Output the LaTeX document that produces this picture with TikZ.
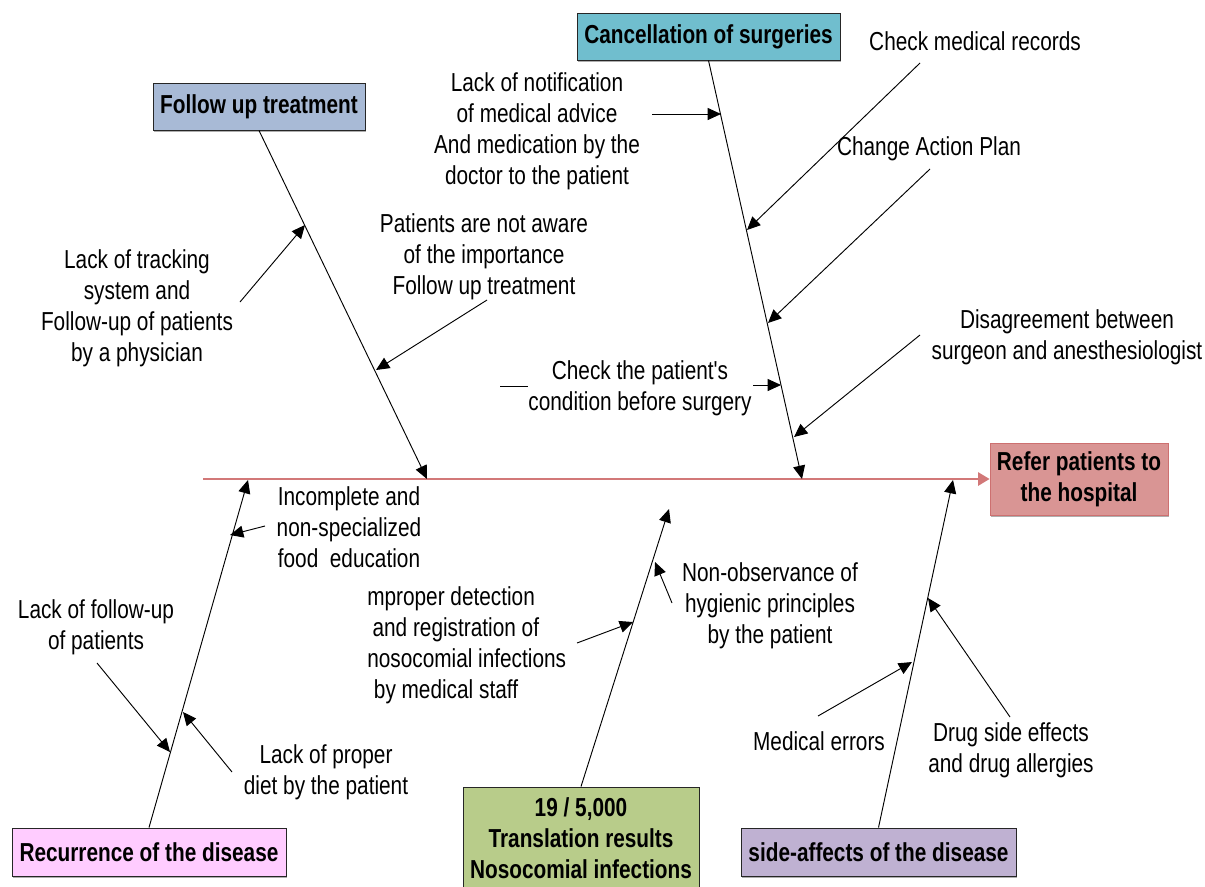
\documentclass[tikz,border=0pt]{standalone}
\usepackage{fontspec}
\setmainfont{Liberation Sans}[FakeStretch=0.80, Ligatures=TeXOff]
\usetikzlibrary{arrows.meta,shadows}
\definecolor{cancelc}{RGB}{112,190,206}
\definecolor{followc}{RGB}{168,186,214}
\definecolor{referc}{RGB}{217,149,148}
\definecolor{referd}{RGB}{205,112,112}
\definecolor{recurc}{RGB}{255,204,255}
\definecolor{nosoc}{RGB}{184,204,138}
\definecolor{sidec}{RGB}{191,177,210}
\definecolor{spinec}{RGB}{210,120,120}
\begin{document}
\begin{tikzpicture}[x=0.75pt,y=-0.75pt,
  txt/.style={font=\fontsize{19.5pt}{23.25pt}\selectfont, align=center, inner sep=0pt, yshift=-1.8pt},
  box/.style={draw=black!85, line width=0.7pt, font=\fontsize{19.5pt}{23.25pt}\selectfont\bfseries,
     align=center, inner sep=0pt,
     drop shadow={shadow xshift=1pt, shadow yshift=-1.5pt, opacity=0.45, fill=black!70}},
  bsize/.style n args={2}{minimum width=#1*0.75pt, minimum height=#2*0.75pt},
  bone/.style={draw=black, line width=0.7pt},
  arr/.style={draw=black, line width=0.7pt, -{Triangle[length=10pt,width=9pt]}},
  spine/.style={draw=spinec, line width=0.9pt, -{Triangle[length=8.5pt,width=10pt,fill=spinec]}}]
\useasboundingbox (0,0) rectangle (1205,886);

% ---- effect box and spine
\node[box, draw=referd, fill=referc, bsize={178}{72}] (rf) at (1079,479) {Refer patients to\\the hospital};
\coordinate (sp0) at (203,479);
\draw[spine] (sp0) -- (rf.west);

% ---- category boxes
\node[box, fill=cancelc, bsize={263}{47}] (cs) at (708.5,36.5) {Cancellation of surgeries};
\node[box, fill=followc, bsize={212}{47}] (fu) at (259,106.5) {Follow up treatment};
\node[box, fill=recurc, bsize={274}{48}] (rd) at (149,852) {Recurrence of the disease};
\node[box, fill=nosoc, bsize={236}{102}] (ni) at (581,838) {19 / 5,000\\Translation results\\Nosocomial infections};
\node[box, fill=sidec, bsize={275}{48}] (sd) at (878.5,852) {side-affects of the disease};

% ---- bone tips
\coordinate (fuT) at (427,479);
\coordinate (csT) at (802,479);
\coordinate (rdT) at (248,480);
\coordinate (niT) at (669,509);
\coordinate (sdT) at (953,480);

\draw[arr] (fu.south) -- (fuT);
\draw[arr] (cs.south) -- (csT);
\draw[arr] (rd.north) -- (rdT);
\draw[arr] (ni.north) -- (niT);
\draw[arr] (sd.north) -- (sdT);

% ---- texts
\node[txt] (tnotif) at (537,128.5) {Lack of notification\\of medical advice\\And medication by the\\doctor to the patient};
\node[txt] (tcmr) at (975,39) {Check medical records};
\node[txt] (tcap) at (929,146) {Change Action Plan};
\node[txt] (taware) at (484,254) {Patients are not aware\\of the importance\\Follow up treatment};
\node[txt] (ttrack) at (137,305.5) {Lack of tracking\\system and\\Follow-up of patients\\by a physician};
\node[txt] (tcheck) at (640,385.5) {Check the patient's\\condition before surgery};
\node[txt] (tdis) at (1067,334.5) {Disagreement between\\surgeon and anesthesiologist};
\node[txt] (tinc) at (349,525) {Incomplete and\\non-specialized\\food~ education};
\node[txt] (tlfu) at (96,624.5) {Lack of follow-up\\of patients};
\node[txt] (tdiet) at (326,769.5) {Lack of proper\\diet by the patient};
\node[txt, align=left, anchor=west] (tmpd) at (367,642.5) {mproper detection\\\hspace*{4pt}and registration of\\nosocomial infections\\\hspace*{5pt}by medical staff};
\node[txt] (tnon) at (770,603) {Non-observance of\\hygienic principles\\by the patient};
\node[txt] (tmed) at (819,739) {Medical errors};
\node[txt] (tdrug) at (1011,747.5) {Drug side effects\\and drug allergies};

% ---- cause arrows: start and tip coordinates
\coordinate (a1s) at (240,302);  \coordinate (a1t) at (305,225);
\coordinate (a2s) at (487,300);  \coordinate (a2t) at (376,370);
\coordinate (b1s) at (652,114);  \coordinate (b1t) at (721,114);
\coordinate (b2s) at (920,63);   \coordinate (b2t) at (747,230);
\coordinate (b3s) at (930,169);  \coordinate (b3t) at (768,323);
\coordinate (b4a) at (500,386);  \coordinate (b4b) at (528,386);
\coordinate (b4s) at (753,385);  \coordinate (b4t) at (781,385);
\coordinate (b5s) at (920,335);  \coordinate (b5t) at (794,437);
\coordinate (c1s) at (265,526);  \coordinate (c1t) at (230,535);
\coordinate (c2s) at (97,663);   \coordinate (c2t) at (170,752);
\coordinate (c3s) at (232,772);  \coordinate (c3t) at (183,712);
\coordinate (d1s) at (577,643);  \coordinate (d1t) at (633,622);
\coordinate (d2s) at (672,603);  \coordinate (d2t) at (655,562);
\coordinate (e1s) at (818,716);  \coordinate (e1t) at (912,662);
\coordinate (e2s) at (1010,717); \coordinate (e2t) at (928,598);

\draw[arr] (a1s) -- (a1t);
\draw[arr] (a2s) -- (a2t);
\draw[arr] (b1s) -- (b1t);
\draw[arr] (b2s) -- (b2t);
\draw[arr] (b3s) -- (b3t);
\draw[bone] (b4a) -- (b4b);
\draw[arr] (b4s) -- (b4t);
\draw[arr] (b5s) -- (b5t);
\draw[arr] (c1s) -- (c1t);
\draw[arr] (c2s) -- (c2t);
\draw[arr] (c3s) -- (c3t);
\draw[arr] (d1s) -- (d1t);
\draw[arr] (d2s) -- (d2t);
\draw[arr] (e1s) -- (e1t);
\draw[arr] (e2s) -- (e2t);
\end{tikzpicture}
\end{document}
